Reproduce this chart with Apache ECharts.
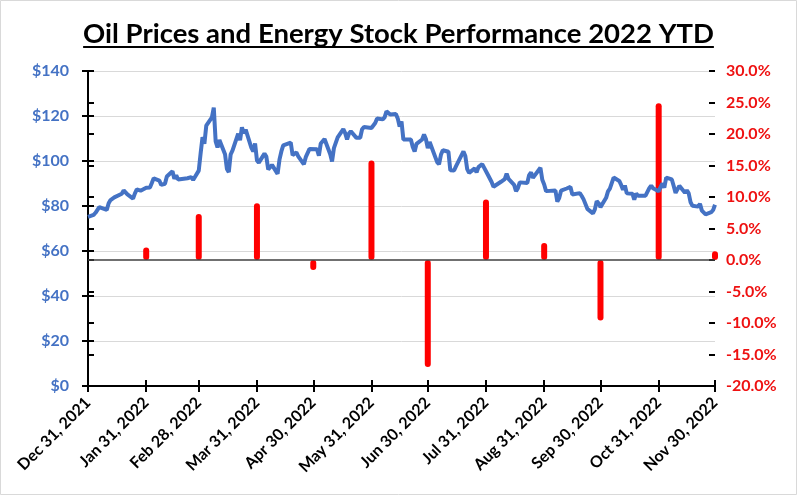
<!DOCTYPE html>
<html>
<head>
<meta charset="utf-8">
<script src="https://cdn.jsdelivr.net/npm/echarts@6/dist/echarts.min.js"></script>
<style>
html,body{margin:0;padding:0;background:#fff;}
#chart{width:797px;height:495px;}
</style>
</head>
<body>
<div id="chart"></div>
<script>
// ---- Data ----
const priceDates = [
'2021-12-31','2022-01-03','2022-01-04','2022-01-05','2022-01-06','2022-01-07','2022-01-10','2022-01-11','2022-01-12','2022-01-13','2022-01-14',
'2022-01-18','2022-01-19','2022-01-20','2022-01-21','2022-01-24','2022-01-25','2022-01-26','2022-01-27','2022-01-28','2022-01-31',
'2022-02-01','2022-02-02','2022-02-03','2022-02-04','2022-02-07','2022-02-08','2022-02-09','2022-02-10','2022-02-11','2022-02-14',
'2022-02-15','2022-02-16','2022-02-17','2022-02-18','2022-02-22','2022-02-23','2022-02-24','2022-02-25','2022-02-28',
'2022-03-01','2022-03-02','2022-03-03','2022-03-04','2022-03-07','2022-03-08','2022-03-09','2022-03-10','2022-03-11','2022-03-14',
'2022-03-15','2022-03-16','2022-03-17','2022-03-18','2022-03-21','2022-03-22','2022-03-23','2022-03-24','2022-03-25','2022-03-28',
'2022-03-29','2022-03-30','2022-03-31','2022-04-01','2022-04-04','2022-04-05','2022-04-06','2022-04-07','2022-04-08','2022-04-11',
'2022-04-12','2022-04-13','2022-04-14','2022-04-18','2022-04-19','2022-04-20','2022-04-21','2022-04-22','2022-04-25','2022-04-26',
'2022-04-27','2022-04-28','2022-04-29','2022-05-02','2022-05-03','2022-05-04','2022-05-05','2022-05-06','2022-05-09','2022-05-10',
'2022-05-11','2022-05-12','2022-05-13','2022-05-16','2022-05-17','2022-05-18','2022-05-19','2022-05-20','2022-05-23','2022-05-24',
'2022-05-25','2022-05-26','2022-05-27','2022-05-31','2022-06-01','2022-06-02','2022-06-03','2022-06-06','2022-06-07','2022-06-08',
'2022-06-09','2022-06-10','2022-06-13','2022-06-14','2022-06-15','2022-06-16','2022-06-17','2022-06-21','2022-06-22','2022-06-23',
'2022-06-24','2022-06-27','2022-06-28','2022-06-29','2022-06-30','2022-07-01','2022-07-05','2022-07-06','2022-07-07','2022-07-08',
'2022-07-11','2022-07-12','2022-07-13','2022-07-14','2022-07-15','2022-07-18','2022-07-19','2022-07-20','2022-07-21','2022-07-22',
'2022-07-25','2022-07-26','2022-07-27','2022-07-28','2022-07-29','2022-08-01','2022-08-02','2022-08-03','2022-08-04','2022-08-05',
'2022-08-08','2022-08-09','2022-08-10','2022-08-11','2022-08-12','2022-08-15','2022-08-16','2022-08-17','2022-08-18','2022-08-19',
'2022-08-22','2022-08-23','2022-08-24','2022-08-25','2022-08-26','2022-08-29','2022-08-30','2022-08-31','2022-09-01','2022-09-02',
'2022-09-06','2022-09-07','2022-09-08','2022-09-09','2022-09-12','2022-09-13','2022-09-14','2022-09-15','2022-09-16','2022-09-19',
'2022-09-20','2022-09-21','2022-09-22','2022-09-23','2022-09-26','2022-09-27','2022-09-28','2022-09-29','2022-09-30','2022-10-03',
'2022-10-04','2022-10-05','2022-10-06','2022-10-07','2022-10-10','2022-10-11','2022-10-12','2022-10-13','2022-10-14','2022-10-17',
'2022-10-18','2022-10-19','2022-10-20','2022-10-21','2022-10-24','2022-10-25','2022-10-26','2022-10-27','2022-10-28','2022-10-31',
'2022-11-01','2022-11-02','2022-11-03','2022-11-04','2022-11-07','2022-11-08','2022-11-09','2022-11-10','2022-11-11','2022-11-14',
'2022-11-15','2022-11-16','2022-11-17','2022-11-18','2022-11-21','2022-11-22','2022-11-23','2022-11-25','2022-11-28','2022-11-29',
'2022-11-30'
];
const oilPrices = [
75.21,76.08,76.99,77.85,79.46,78.90,78.23,81.22,82.64,82.12,83.82,
85.43,86.96,86.90,85.14,83.31,85.60,87.35,86.61,86.82,88.15,
88.20,88.26,90.27,92.31,91.32,89.36,89.66,89.88,93.10,95.46,
92.07,93.66,91.76,91.07,92.35,92.10,92.81,91.59,95.72,
103.41,110.60,107.67,115.68,119.40,123.70,108.70,106.02,109.33,103.01,
96.44,95.04,102.98,104.70,112.12,109.27,114.93,112.34,113.90,105.96,
104.24,107.82,100.28,99.27,103.28,101.96,96.23,96.03,98.26,94.29,
100.60,104.25,106.95,108.21,102.56,102.75,103.79,102.07,98.54,101.70,
102.02,105.36,104.69,105.17,102.41,107.81,108.26,109.77,103.09,99.76,
105.71,106.13,110.49,114.20,112.40,109.59,112.21,113.23,110.29,109.77,
110.33,114.09,115.07,114.67,115.26,116.87,118.87,118.50,119.41,122.11,
121.51,120.67,120.93,118.93,115.31,117.59,109.56,109.52,106.19,104.27,
107.62,109.57,111.76,109.78,105.76,108.43,99.50,98.53,102.73,104.79,
104.09,95.84,96.30,95.78,97.59,102.60,104.22,102.26,96.35,94.70,
96.70,94.98,97.26,96.42,98.62,93.89,94.42,90.66,88.54,89.01,
90.76,90.50,91.93,94.34,92.09,89.41,86.53,87.91,90.50,90.77,
90.23,93.74,94.89,92.52,93.06,97.01,91.64,89.55,86.61,86.87,
86.88,81.94,83.54,86.79,87.78,87.31,88.48,85.10,85.11,85.73,
84.45,82.94,83.49,78.74,76.71,78.50,82.15,81.23,79.49,83.63,
86.52,87.76,88.45,92.64,91.13,89.35,87.27,89.11,85.61,85.46,
82.82,85.55,84.51,85.05,84.58,85.32,87.91,89.08,87.90,86.53,
88.37,89.99,88.17,92.61,91.79,88.91,85.83,86.47,88.96,85.87,
86.92,85.59,81.64,80.08,79.73,80.95,77.94,76.28,77.24,78.20,
80.55
];
const returnDates = ['2022-01-31','2022-02-28','2022-03-31','2022-04-30','2022-05-31','2022-06-30','2022-07-31','2022-08-31','2022-09-30','2022-10-31','2022-11-30'];
const energyReturns = [2.0, 7.3, 9.0, -1.6, 15.8, -17.0, 9.6, 2.7, -9.6, 24.9, 1.4];
const tickDates = ['2021-12-31','2022-01-31','2022-02-28','2022-03-31','2022-04-30','2022-05-31','2022-06-30','2022-07-31','2022-08-31','2022-09-30','2022-10-31','2022-11-30'];
const tickLabels = ['Dec 31, 2021','Jan 31, 2022','Feb 28, 2022','Mar 31, 2022','Apr 30, 2022','May 31, 2022','Jun 30, 2022','Jul 31, 2022','Aug 31, 2022','Sep 30, 2022','Oct 31, 2022','Nov 30, 2022'];
const titleText = 'Oil Prices and Energy Stock Performance 2022 YTD';

// ---- Build ----
const DAY = 86400000;
function dayNum(s){const p=s.split('-').map(Number);return Math.round((Date.UTC(p[0],p[1]-1,p[2])-Date.UTC(2021,11,31))/DAY);}
const tickDays = tickDates.map(dayNum);
const labelMap = {};
tickDays.forEach((t,i)=>{labelMap[t]=tickLabels[i];});
const xMin = tickDays[0], xMax = tickDays[tickDays.length-1];

const FONT = 'Lato';
const TITLE_SIZE = 27.5;
const meas = document.createElement('canvas').getContext('2d');
meas.font = 'bold ' + TITLE_SIZE + 'px ' + FONT;
const titleW = meas.measureText(titleText).width;
const W = 797, H = 495;

const chart = echarts.init(document.getElementById('chart'), null, {renderer:'canvas'});
const tickStyle = {color:'#000', width:2};
chart.setOption({
  animation:false,
  backgroundColor:'#fff',
  title:{text:titleText,left:'center',top:15,textStyle:{fontFamily:FONT,fontWeight:'bold',fontSize:TITLE_SIZE,color:'#000'}},
  grid:{left:88,right:82,top:71,bottom:109,containLabel:false},
  xAxis:[{
    type:'value',min:xMin,max:xMax,
    axisLine:{onZero:false,lineStyle:{color:'#000',width:2}},
    axisTick:{show:true,length:6,lineStyle:tickStyle,customValues:tickDays},
    axisLabel:{customValues:tickDays,rotate:45,margin:14,fontFamily:FONT,fontWeight:'bold',fontSize:16,color:'#000',
      formatter:v=>labelMap[v]||''},
    splitLine:{show:false}
  },{
    type:'value',min:xMin,max:xMax,position:'bottom',
    axisLine:{show:false,onZero:false},
    axisTick:{show:true,inside:true,length:6,lineStyle:tickStyle,customValues:tickDays},
    axisLabel:{show:false},splitLine:{show:false}
  }],
  yAxis:[{
    type:'value',position:'left',min:0,max:140,interval:20,
    axisLine:{show:true,lineStyle:{color:'#000',width:2}},
    axisTick:{show:true,length:6,lineStyle:tickStyle},
    axisLabel:{margin:19,fontFamily:FONT,fontWeight:'bold',fontSize:16,color:'#4472C4',formatter:v=>'$'+v},
    splitLine:{show:true,lineStyle:{color:'#D9D9D9',width:1}}
  },{
    type:'value',position:'right',min:-20,max:30,interval:5,
    axisLine:{show:true,lineStyle:{color:'#000',width:2}},
    axisTick:{show:true,length:6,lineStyle:tickStyle},
    axisLabel:{margin:11,fontFamily:FONT,fontWeight:'bold',fontSize:16,color:'#EE1111',formatter:v=>v.toFixed(1)+'%'},
    splitLine:{show:false}
  },{
    type:'value',position:'left',min:0,max:140,interval:20,
    axisLine:{show:false},axisTick:{show:true,inside:true,length:6,lineStyle:tickStyle},
    axisLabel:{show:false},splitLine:{show:false}
  },{
    type:'value',position:'right',min:-20,max:30,interval:5,
    axisLine:{show:false},axisTick:{show:true,inside:true,length:6,lineStyle:tickStyle},
    axisLabel:{show:false},splitLine:{show:false}
  }],
  series:[{
    name:'Energy Stocks',type:'bar',xAxisIndex:0,yAxisIndex:1,barWidth:6,clip:false,z:2,
    itemStyle:{color:'#FF0000',borderRadius:3},
    data:returnDates.map((d,i)=>[dayNum(d),energyReturns[i]]),
    markLine:{silent:true,symbol:'none',label:{show:false},lineStyle:{color:'#404040',width:1.5,type:'solid'},data:[{yAxis:0}]}
  },{
    name:'Oil Price',type:'line',xAxisIndex:0,yAxisIndex:0,showSymbol:false,z:3,
    lineStyle:{color:'#4472C4',width:4},
    data:priceDates.map((d,i)=>[dayNum(d),oilPrices[i]])
  }],
  graphic:[
    {type:'rect',shape:{x:0.5,y:0.5,width:W-1,height:H-1},style:{fill:'none',stroke:'#D9D9D9',lineWidth:1},silent:true},
    {type:'line',shape:{x1:W/2-titleW/2,y1:47,x2:W/2+titleW/2,y2:47},style:{stroke:'#000',lineWidth:2},silent:true}
  ]
});
</script>
</body>
</html>
